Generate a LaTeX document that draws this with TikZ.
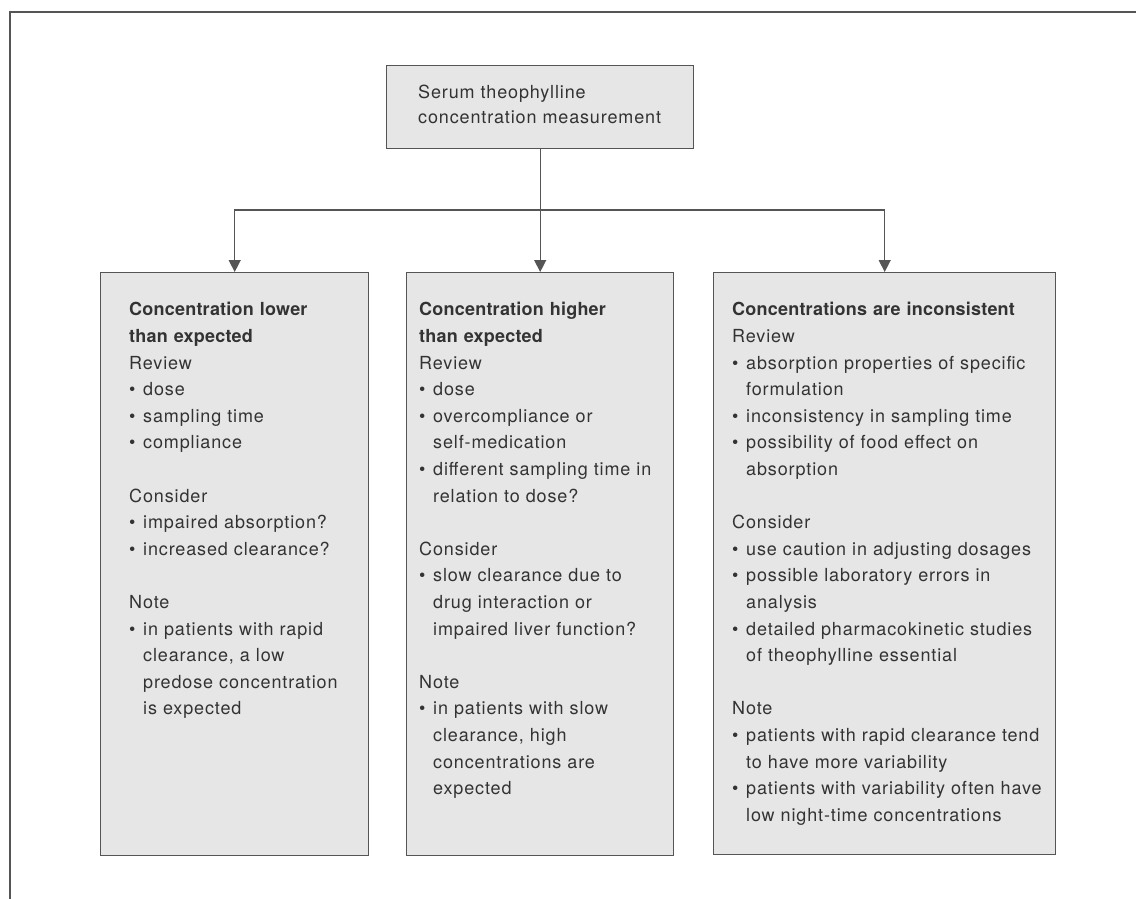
\documentclass[tikz,border=0pt]{standalone}
\usepackage{fontspec}
\setmainfont{TeX Gyre Heros}[LetterSpace=4.8,BoldFeatures={LetterSpace=1.2}]
\usetikzlibrary{arrows.meta}
\definecolor{boxfill}{HTML}{E6E6E6}
\definecolor{linecol}{HTML}{555555}
\definecolor{txtcol}{HTML}{333333}
\newcommand{\bul}{\makebox[14pt][l]{•}}
\newcommand{\ind}{\hspace*{14pt}}
\tikzset{
  panel/.style={draw=linecol, fill=boxfill, line width=1.4pt, anchor=north west, inner sep=0pt},
  paneltext/.style={anchor=north west, inner sep=0pt, align=left, text width=330pt, text=txtcol,
    font=\fontsize{18}{26.6}\selectfont},
  toptext/.style={anchor=north west, inner sep=0pt, align=left, text width=280pt, text=txtcol,
    font=\fontsize{18}{25.6}\selectfont},
  arr/.style={draw=linecol, line width=1.4pt, -{Triangle[width=12pt,length=12pt]}},
  frameline/.style={draw=linecol, line width=1.7pt},
}
\begin{document}
\begin{tikzpicture}[x=1pt,y=-1pt]
\useasboundingbox (0,0) rectangle (1136,899);
% frame
\draw[frameline] (10,899) -- (10,12) -- (1136,12);
% boxes
\node[panel, minimum width=307pt, minimum height=83pt] (top) at (386,65) {};
\node[panel, minimum width=268pt, minimum height=583pt] (low) at (100,272) {};
\node[panel, minimum width=267pt, minimum height=583pt] (high) at (406,272) {};
\node[panel, minimum width=342pt, minimum height=582pt] (incons) at (713,272) {};
% texts
\node[toptext] (toptxt) at (418,80) {\noindent\strut Serum theophylline\\concentration measurement};
\node[paneltext] (lowtxt) at (129,297) {\noindent\strut\textbf{Concentration lower}\\
\textbf{than expected}\\
Review\\
\bul dose\\
\bul sampling time\\
\bul compliance\\[26.6pt]
Consider\\
\bul impaired absorption?\\
\bul increased clearance?\\[26.6pt]
Note\\
\bul in patients with rapid\\
\ind clearance, a low\\
\ind predose concentration\\
\ind is expected};
\node[paneltext] (hightxt) at (419,297) {\noindent\strut\textbf{Concentration higher}\\
\textbf{than expected}\\
Review\\
\bul dose\\
\bul overcompliance or\\
\ind self-medication\\
\bul different sampling time in\\
\ind relation to dose?\\[26.6pt]
Consider\\
\bul slow clearance due to\\
\ind drug interaction or\\
\ind impaired liver function?\\[26.6pt]
Note\\
\bul in patients with slow\\
\ind clearance, high\\
\ind concentrations are\\
\ind expected};
\node[paneltext] (incontxt) at (732,297) {\noindent\strut\textbf{Concentrations are inconsistent}\\
Review\\
\bul absorption properties of specific\\
\ind formulation\\
\bul inconsistency in sampling time\\
\bul possibility of food effect on\\
\ind absorption\\[26.6pt]
Consider\\
\bul use caution in adjusting dosages\\
\bul possible laboratory errors in\\
\ind analysis\\
\bul detailed pharmacokinetic studies\\
\ind of theophylline essential\\[26.6pt]
Note\\
\bul patients with rapid clearance tend\\
\ind to have more variability\\
\bul patients with variability often have\\
\ind low night-time concentrations};
% connectors
\coordinate (split) at (539.5,210);
\draw[arr] (top.south) -- (high.north);
\draw[arr] (split) -| (low.north);
\draw[arr] (split) -| (incons.north);
\end{tikzpicture}
\end{document}
